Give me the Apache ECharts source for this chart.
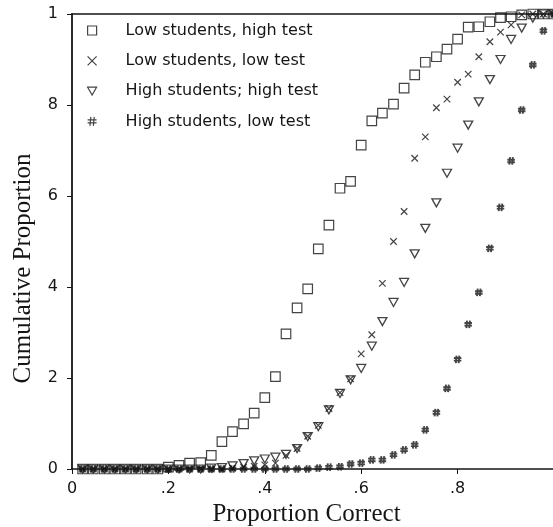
<!DOCTYPE html>
<html>
<head>
<meta charset="utf-8">
<script src="https://cdn.jsdelivr.net/npm/echarts@6/dist/echarts.min.js"></script>
<style>
  html, body { margin: 0; padding: 0; background: #ffffff; }
  #chart { width: 553px; height: 527px; }
</style>
</head>
<body>
<div id="chart"></div>
<script>
// Proportion of items correct (test of 45 items)
const proportionCorrect = [
  0.022, 0.044, 0.067, 0.089, 0.111, 0.133, 0.156, 0.178, 0.200, 0.222,
  0.244, 0.267, 0.289, 0.311, 0.333, 0.356, 0.378, 0.400, 0.422, 0.444,
  0.467, 0.489, 0.511, 0.533, 0.556, 0.578, 0.600, 0.622, 0.644, 0.667,
  0.689, 0.711, 0.733, 0.756, 0.778, 0.800, 0.822, 0.844, 0.867, 0.889,
  0.911, 0.933, 0.956, 0.978, 1.000
];

// Cumulative proportions for each group
const lowStudentsHighTest = [
  0, 0, 0, 0, 0, 0, 0, 0, 0.004, 0.008,
  0.013, 0.014, 0.030, 0.060, 0.082, 0.099, 0.123, 0.157, 0.203, 0.297,
  0.354, 0.396, 0.484, 0.536, 0.617, 0.632, 0.712, 0.765, 0.782, 0.802,
  0.837, 0.866, 0.894, 0.906, 0.923, 0.945, 0.971, 0.972, 0.983, 0.992,
  0.994, 0.998, 1, 1, 1
];
const lowStudentsLowTest = [
  0, 0, 0, 0, 0, 0, 0, 0, 0, 0,
  0, 0, 0, 0, 0.002, 0.004, 0.006, 0.009, 0.013, 0.030,
  0.045, 0.072, 0.096, 0.133, 0.168, 0.198, 0.253, 0.295, 0.408, 0.500,
  0.566, 0.683, 0.730, 0.794, 0.813, 0.850, 0.868, 0.906, 0.939, 0.960,
  0.976, 0.998, 1, 1, 1
];
const highStudentsHighTest = [
  0, 0, 0, 0, 0, 0, 0, 0, 0, 0,
  0, 0, 0.002, 0.003, 0.007, 0.012, 0.018, 0.022, 0.026, 0.032,
  0.045, 0.071, 0.093, 0.130, 0.166, 0.196, 0.221, 0.270, 0.324, 0.366,
  0.410, 0.473, 0.529, 0.585, 0.650, 0.705, 0.756, 0.807, 0.856, 0.900,
  0.944, 0.969, 0.991, 1, 1
];
const highStudentsLowTest = [
  0, 0, 0, 0, 0, 0, 0, 0, 0, 0,
  0, 0, 0, 0, 0, 0, 0, 0, 0, 0,
  0, 0, 0.002, 0.004, 0.005, 0.011, 0.013, 0.020, 0.020, 0.031,
  0.042, 0.053, 0.086, 0.124, 0.177, 0.241, 0.318, 0.388, 0.485, 0.575,
  0.677, 0.789, 0.888, 0.963, 1
];

const seriesNames = [
  'Low students, high test',
  'Low students, low test',
  'High students; high test',
  'High students, low test'
];

// Tick labels as printed on the axes
const xTickValues = [0, 0.2, 0.4, 0.6, 0.8];
const xTickText = ['0', '.2', '.4', '.6', '.8'];
const yTickValues = [0, 0.2, 0.4, 0.6, 0.8, 1];
const yTickText = ['0', '2', '4', '6', '8', '1'];

function tickLabel(values, texts) {
  return function (v) {
    for (let i = 0; i < values.length; i++) {
      if (Math.abs(values[i] - v) < 1e-6) return texts[i];
    }
    return '';
  };
}

function pairs(ys) {
  return proportionCorrect.map((x, i) => [x, ys[i]]);
}

const ink = '#151515';
const symbols = [
  { symbol: 'path://M0,0H10V10H0Z', size: 9.5, width: 1.2 },
  { symbol: 'path://M0,0L10,10M10,0L0,10', size: 6.5, width: 1.2 },
  { symbol: 'path://M0,0L10,0L5,8.7Z', size: [9, 8], width: 1.3 },
  { symbol: 'path://M3.6,0L2.6,10M7.4,0L6.4,10M0,3.3H10M0,6.7H10', size: 7.5, width: 1.9 }
];
const groups = [lowStudentsHighTest, lowStudentsLowTest, highStudentsHighTest, highStudentsLowTest];

const chart = echarts.init(document.getElementById('chart'), null, { renderer: 'canvas' });

chart.setOption({
  animation: false,
  backgroundColor: '#ffffff',
  grid: { left: 72, top: 14, right: -1, bottom: 58, outerBoundsMode: 'none' },
  legend: {
    orient: 'vertical',
    left: 87,
    top: 22.5,
    padding: 0,
    itemWidth: 9,
    itemHeight: 9,
    itemGap: 14.3,
    selectedMode: false,
    data: seriesNames,
    itemStyle: { color: 'rgba(0,0,0,0)', borderColor: ink, borderWidth: 1.2 },
    textStyle: {
      fontFamily: 'DejaVu Sans',
      fontSize: 16,
      color: ink,
      padding: [0, 0, 0, 24]
    }
  },
  xAxis: [
    {
      type: 'value',
      min: 0,
      max: 1,
      interval: 0.2,
      name: 'Proportion Correct',
      nameLocation: 'middle',
      nameGap: 32,
      nameTextStyle: {
        fontFamily: 'Liberation Serif',
        fontSize: 25,
        color: ink,
        padding: [0, 13, 0, 0]
      },
      axisLine: { show: true, lineStyle: { color: ink, width: 1.5 } },
      axisTick: { show: true, inside: false, length: 5, lineStyle: { color: ink, width: 1 } },
      axisLabel: {
        margin: 12,
        fontFamily: 'DejaVu Sans',
        fontSize: 16,
        color: ink,
        formatter: tickLabel(xTickValues, xTickText)
      },
      splitLine: { show: false }
    },
    {
      type: 'value',
      position: 'top',
      min: 0,
      max: 1,
      axisLine: { show: true, lineStyle: { color: ink, width: 1.5 } },
      axisTick: { show: false },
      axisLabel: { show: false },
      splitLine: { show: false }
    }
  ],
  yAxis: {
    type: 'value',
    min: 0,
    max: 1,
    interval: 0.2,
    name: 'Cumulative Proportion',
    nameLocation: 'middle',
    nameGap: 36,
    nameRotate: 90,
    nameTextStyle: {
      fontFamily: 'Liberation Serif',
      fontSize: 25,
      color: ink,
      padding: [0, 54, 0, 0]
    },
    axisLine: { show: true, lineStyle: { color: ink, width: 1.8 } },
    axisTick: { show: true, inside: false, length: 5, lineStyle: { color: ink, width: 1 } },
    axisLabel: {
      margin: 14,
      fontFamily: 'DejaVu Sans',
      fontSize: 16,
      color: ink,
      formatter: tickLabel(yTickValues, yTickText)
    },
    splitLine: { show: false }
  },
  series: groups.map((ys, i) => ({
    name: seriesNames[i],
    type: 'scatter',
    xAxisIndex: 0,
    clip: false,
    data: pairs(ys),
    symbol: symbols[i].symbol,
    symbolSize: symbols[i].size,
    itemStyle: { color: 'rgba(0,0,0,0)', borderColor: ink, borderWidth: symbols[i].width },
    emphasis: { disabled: true }
  }))
});
</script>
</body>
</html>
